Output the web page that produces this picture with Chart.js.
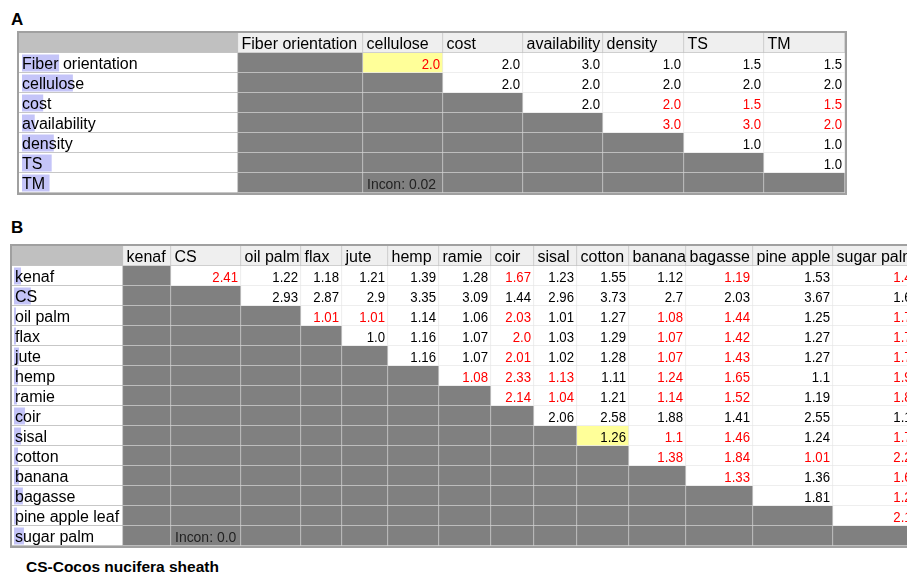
<!DOCTYPE html>
<html>
<head>
<meta charset="utf-8">
<script src="https://cdn.jsdelivr.net/npm/chart.js@4.4.1/dist/chart.umd.min.js"></script>
<style>
  body { margin: 0; background: #fff; width: 907px; height: 577px; overflow: hidden; position: relative;
         font-family: "Liberation Sans", Arial, sans-serif; }
  .tag { position: absolute; font-weight: bold; font-size: 17px; line-height: 1; color: #000; }
  .note { position: absolute; font-weight: bold; font-size: 15.5px; line-height: 1; color: #000; }
  canvas { position: absolute; }
</style>
</head>
<body>
<div class="tag" style="left:11px; top:10.6px;">A</div>
<canvas id="tableA" width="830" height="164" style="left:17px; top:31px;"></canvas>
<div class="tag" style="left:11px; top:218.6px;">B</div>
<canvas id="tableB" width="899" height="304" style="left:8px; top:244px;"></canvas>
<div class="note" style="left:26px; top:559px;">CS-Cocos nucifera sheath</div>

<script>
// ---- panel A: criteria ----
const critA = ['Fiber orientation', 'cellulose', 'cost', 'availability', 'density', 'TS', 'TM'];
const weightA = [0.175, 0.24, 0.10, 0.06, 0.15, 0.14, 0.13];
// upper triangle of the pairwise matrix, row by row; negative = column preferred (shown red)
const pairsA = [
  [-2.0, 2.0, 3.0, 1.0, 1.5, 1.5],
  [2.0, 2.0, 2.0, 2.0, 2.0],
  [2.0, -2.0, -1.5, -1.5],
  [-3.0, -3.0, -2.0],
  [1.0, 1.0],
  [1.0],
  []
];
const inconA = 0.02;
const markA = [0, 1];

// ---- panel B: fibres ----
const colsB = ['kenaf', 'CS', 'oil palm', 'flax', 'jute', 'hemp', 'ramie', 'coir', 'sisal', 'cotton',
               'banana', 'bagasse', 'pine apple', 'sugar palm'];
const rowsB = ['kenaf', 'CS', 'oil palm', 'flax', 'jute', 'hemp', 'ramie', 'coir', 'sisal', 'cotton',
               'banana', 'bagasse', 'pine apple leaf', 'sugar palm'];
const weightB = [0.079, 0.19, 0.022, 0.022, 0.056, 0.045, 0.034, 0.124, 0.079, 0.045, 0.056, 0.10, 0.034, 0.112];
const pairsB = [
  [-2.41, 1.22, 1.18, 1.21, 1.39, 1.28, -1.67, 1.23, 1.55, 1.12, -1.19, 1.53, -1.43],
  [2.93, 2.87, 2.9, 3.35, 3.09, 1.44, 2.96, 3.73, 2.7, 2.03, 3.67, 1.68],
  [-1.01, -1.01, 1.14, 1.06, -2.03, 1.01, 1.27, -1.08, -1.44, 1.25, -1.74],
  [1.0, 1.16, 1.07, -2.0, 1.03, 1.29, -1.07, -1.42, 1.27, -1.73],
  [1.16, 1.07, -2.01, 1.02, 1.28, -1.07, -1.43, 1.27, -1.73],
  [-1.08, -2.33, -1.13, 1.11, -1.24, -1.65, 1.1, -1.99],
  [-2.14, -1.04, 1.21, -1.14, -1.52, 1.19, -1.84],
  [2.06, 2.58, 1.88, 1.41, 2.55, 1.17],
  [1.26, -1.1, -1.46, 1.24, -1.76],
  [-1.38, -1.84, -1.01, -2.22],
  [-1.33, 1.36, -1.61],
  [1.81, -1.21],
  [-2.18],
  []
];
const inconB = 0.0;
const markB = [8, 9];

// ---- layout (cell edges in px from the table's left edge) ----
const edgesA = [0, 219, 344, 424, 504, 584, 665, 745, 826];
const edgesB = [0, 111, 159, 229, 289, 330, 376, 427, 479, 522, 565, 617, 674, 741, 821, 910];

const FONT = '"Liberation Sans", Arial, sans-serif';

function fmt2(v) {
  let s = v.toFixed(2);
  if (s.endsWith('0')) s = s.slice(0, -1);
  return s;
}

function cellFill(t, r, c) {
  if (r === 0) return c === 0 ? '#c0c0c0' : '#efefef';
  if (c === 0) return '#ffffff';
  const i = r - 1, j = c - 1;
  if (j <= i) return '#808080';
  if (t.mark[0] === i && t.mark[1] === j) return '#ffff99';
  return '#ffffff';
}

function lineColor(t, r, c) {
  if (r === 0) return '#c4c4c4';
  if (c === 0) return '#b4b4b4';
  const i = r - 1, j = c - 1;
  if (j <= i) return '#d2d2d2';
  return '#e8e8e8';
}

function cellText(t, r, c) {
  if (r === 0) return c === 0 ? null : { s: t.cols[c - 1], col: '#000', kind: 'lab' };
  if (c === 0) return { s: t.rows[r - 1], col: '#000', kind: 'lab' };
  const i = r - 1, j = c - 1;
  if (j > i) {
    const v = t.pairs[i][j - i - 1];
    return { s: t.fmt(Math.abs(v)), col: v < 0 ? '#ff0000' : '#000', kind: 'num' };
  }
  if (i === t.rows.length - 1 && j === 1) return { s: 'Incon: ' + fmt2(t.incon), col: '#222', kind: 'incon' };
  return null;
}

function textPlugin(t) {
  return {
    id: 'tableText',
    afterDatasetsDraw(chart) {
      const ctx = chart.ctx;
      ctx.save();
      for (let c = 0; c <= t.cols.length; c++) {
        const meta = chart.getDatasetMeta(c + 1);
        meta.data.forEach((el, r) => {
          const txt = cellText(t, r, c);
          if (!txt) return;
          const p = el.getProps(['x', 'y', 'base'], true);
          const left = Math.min(p.x, p.base), right = Math.max(p.x, p.base);
          const yb = p.y + 5.5;
          ctx.fillStyle = txt.col;
          if (txt.kind === 'num') {
            ctx.font = '15px ' + FONT;
            ctx.save();
            ctx.translate(right - 3, yb);
            ctx.scale(0.88, 1);
            ctx.textAlign = 'right';
            ctx.fillText(txt.s, 0, 0);
            ctx.restore();
          } else if (txt.kind === 'incon') {
            ctx.font = '15px ' + FONT;
            ctx.save();
            ctx.translate(left + 4, yb);
            ctx.scale(0.93, 1);
            ctx.textAlign = 'left';
            ctx.fillText(txt.s, 0, 0);
            ctx.restore();
          } else {
            ctx.font = '16px ' + FONT;
            ctx.textAlign = 'left';
            ctx.fillText(txt.s, left + (r === 0 ? 3.5 : 3), yb);
          }
        });
      }
      // outer frame
      const a = chart.chartArea;
      ctx.strokeStyle = '#a0a0a0';
      ctx.lineWidth = 2;
      ctx.strokeRect(a.left - 1, a.top - 1, a.right - a.left + 2, a.bottom - a.top + 2);
      ctx.restore();
    }
  };
}

function makeTable(id, t, pad) {
  const labels = [''].concat(t.rows);
  const datasets = [{
    // weight highlight behind the row names
    data: labels.map((_, r) => r === 0 ? null : [t.hlStart, t.hlStart + t.weights[r - 1] * t.wScale]),
    backgroundColor: '#c4c4f8',
    borderWidth: 0,
    barPercentage: 0.85,
    categoryPercentage: 1,
    grouped: false
  }];
  for (let c = 0; c <= t.cols.length; c++) {
    datasets.push({
      data: labels.map(() => [t.edges[c], t.edges[c + 1]]),
      backgroundColor: ctx => cellFill(t, ctx.dataIndex, c),
      borderColor: ctx => lineColor(t, ctx.dataIndex, c),
      borderWidth: { top: 0, left: 0, right: 1, bottom: 1 },
      borderSkipped: false,
      barPercentage: 1,
      categoryPercentage: 1,
      grouped: false
    });
  }
  return new Chart(document.getElementById(id), {
    type: 'bar',
    data: { labels: labels, datasets: datasets },
    options: {
      indexAxis: 'y',
      responsive: false,
      animation: false,
      devicePixelRatio: 1,
      layout: { padding: pad },
      scales: {
        x: { type: 'linear', min: 0, max: t.width, display: false },
        y: { type: 'category', display: false, offset: true }
      },
      plugins: { legend: { display: false }, tooltip: { enabled: false } }
    },
    plugins: [textPlugin(t)]
  });
}

makeTable('tableA', {
  cols: critA, rows: critA, pairs: pairsA, weights: weightA, incon: inconA, mark: markA,
  edges: edgesA, width: 826, hlStart: 3, wScale: 212, fmt: v => v.toFixed(1)
}, { left: 2, right: 2, top: 2, bottom: 2 });

makeTable('tableB', {
  cols: colsB, rows: rowsB, pairs: pairsB, weights: weightB, incon: inconB, mark: markB,
  edges: edgesB, width: 895, hlStart: 2, wScale: 89, fmt: fmt2
}, { left: 4, right: 0, top: 2, bottom: 2 });
</script>
</body>
</html>
